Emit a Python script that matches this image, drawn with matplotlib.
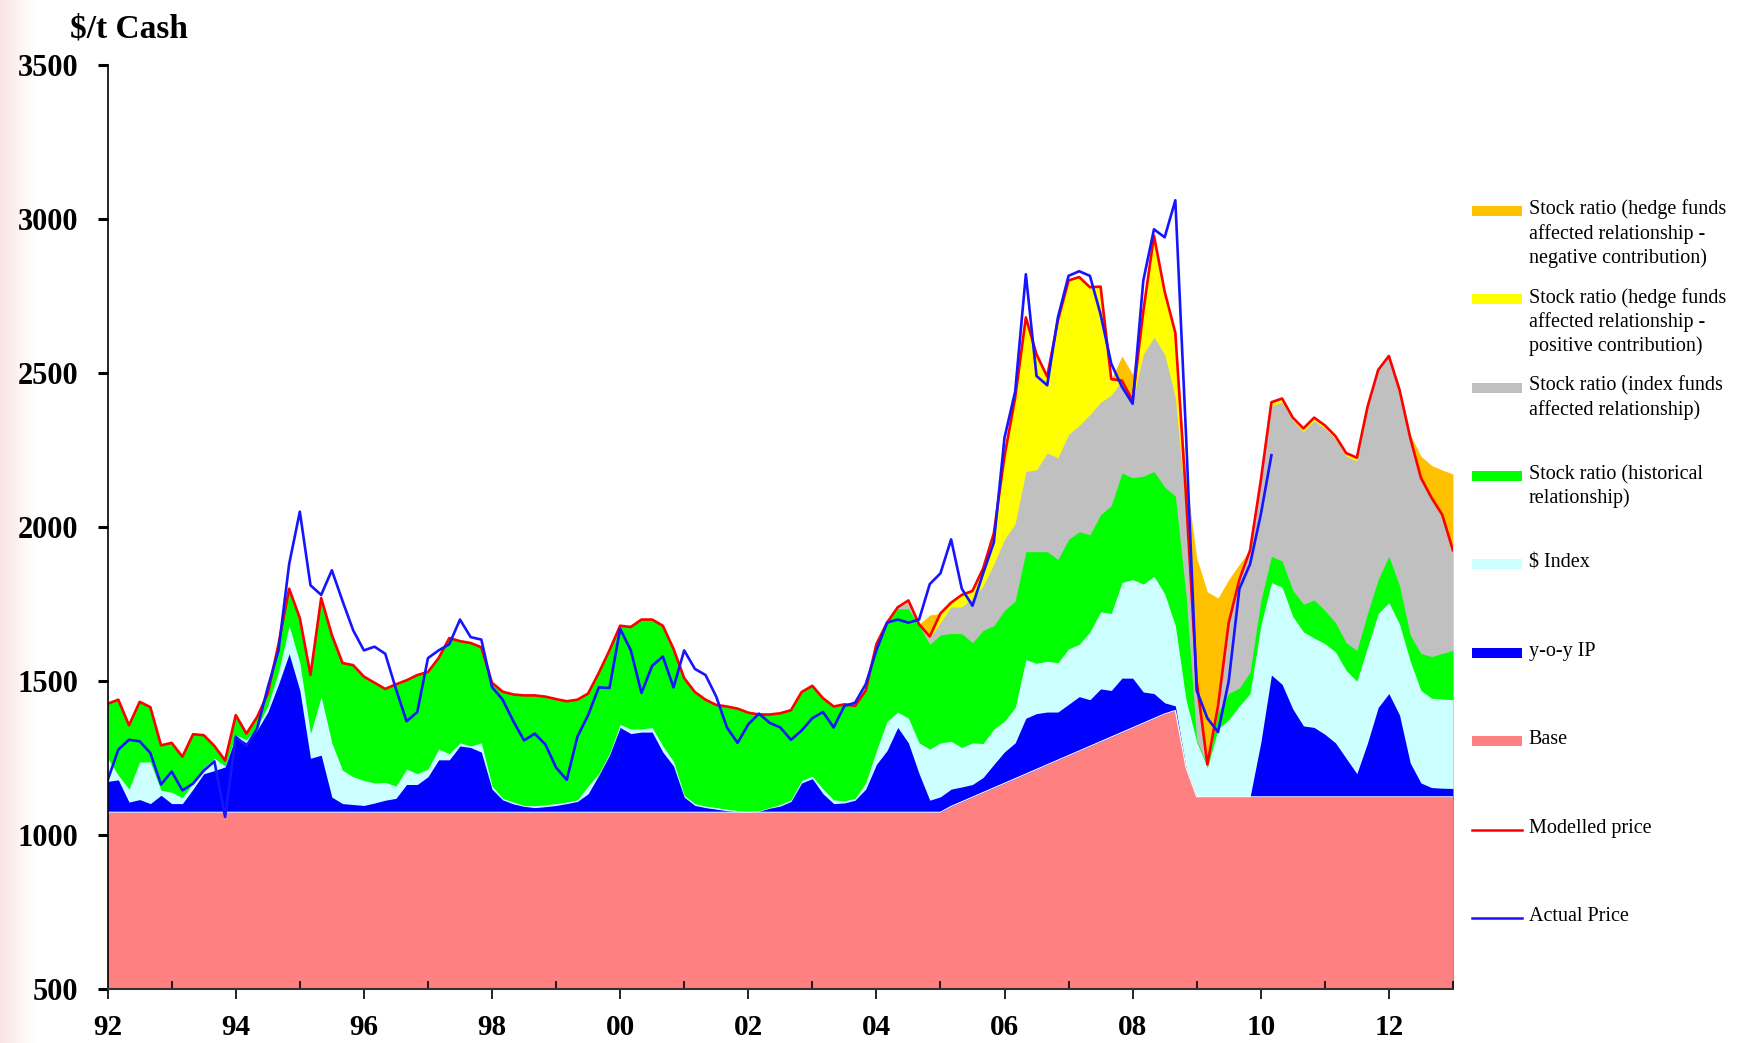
import numpy as np
import matplotlib
matplotlib.use("Agg")
import matplotlib.pyplot as plt
from matplotlib.colors import LinearSegmentedColormap
from matplotlib.lines import Line2D
from matplotlib.patches import Rectangle

plt.rcParams["font.family"] = ["Liberation Serif", "DejaVu Serif"]

# bimonthly points, Jan-1992 .. Jan-2013
years = 1992 + np.arange(127) / 6

base = [
    1075, 1075, 1075, 1075, 1075, 1075,
    1075, 1075, 1075, 1075, 1075, 1075,
    1075, 1075, 1075, 1075, 1075, 1075,
    1075, 1075, 1075, 1075, 1075, 1075,
    1075, 1075, 1075, 1075, 1075, 1075,
    1075, 1075, 1075, 1075, 1075, 1075,
    1075, 1075, 1075, 1075, 1075, 1075,
    1075, 1075, 1075, 1075, 1075, 1075,
    1075, 1075, 1075, 1075, 1075, 1075,
    1075, 1075, 1075, 1075, 1075, 1075,
    1075, 1075, 1075, 1075, 1075, 1075,
    1075, 1075, 1075, 1075, 1075, 1075,
    1075, 1075, 1075, 1075, 1075, 1075,
    1075, 1094, 1109, 1124, 1139, 1154,
    1169, 1184, 1199, 1214, 1229, 1244,
    1259, 1274, 1289, 1304, 1319, 1334,
    1349, 1364, 1379, 1394, 1405, 1220,
    1125, 1125, 1125, 1125, 1125, 1125,
    1125, 1125, 1125, 1125, 1125, 1125,
    1125, 1125, 1125, 1125, 1125, 1125,
    1125, 1125, 1125, 1125, 1125, 1125,
    1125,
]

# top of the y-o-y IP band
ip_top = [
    1175, 1180, 1108, 1116, 1103, 1130,
    1103, 1103, 1150, 1200, 1210, 1222,
    1320, 1300, 1341, 1400, 1490, 1589,
    1470, 1250, 1260, 1124, 1103, 1100,
    1097, 1105, 1114, 1120, 1165, 1165,
    1190, 1245, 1245, 1290, 1285, 1270,
    1150, 1115, 1102, 1094, 1090, 1093,
    1097, 1103, 1110, 1135, 1195, 1260,
    1350, 1330, 1335, 1335, 1270, 1225,
    1124, 1097, 1090, 1085, 1080, 1077,
    1075, 1078, 1088, 1095, 1110, 1170,
    1184, 1135, 1103, 1105, 1114, 1150,
    1230, 1275, 1350, 1300, 1200, 1114,
    1125, 1150, 1157, 1165, 1188, 1230,
    1271, 1300, 1380, 1395, 1400, 1400,
    1425, 1450, 1440, 1475, 1470, 1510,
    1510, 1465, 1460, 1430, 1420, 1220,
    1125, 1125, 1125, 1125, 1125, 1125,
    1300, 1520, 1490, 1410, 1355, 1350,
    1328, 1300, 1250, 1200, 1300, 1415,
    1460, 1390, 1235, 1170, 1155, 1153,
    1152,
]

# top of the $ index band
usd_top = [
    1250, 1195, 1150, 1238, 1238, 1146,
    1140, 1122, 1170, 1220, 1250, 1225,
    1325, 1310, 1350, 1420, 1530, 1680,
    1560, 1330, 1450, 1300, 1211, 1190,
    1178, 1170, 1172, 1160, 1215, 1200,
    1215, 1280, 1265, 1300, 1290, 1300,
    1160, 1120, 1108, 1097, 1096, 1099,
    1103, 1108, 1115, 1160, 1200, 1265,
    1360, 1345, 1345, 1350, 1290, 1240,
    1130, 1103, 1095, 1090, 1085, 1080,
    1077, 1080, 1090, 1100, 1115, 1178,
    1192, 1150, 1115, 1112, 1120, 1170,
    1275, 1370, 1400, 1380, 1300, 1280,
    1300, 1305, 1285, 1300, 1298, 1345,
    1370, 1415, 1570, 1558, 1565, 1560,
    1605, 1620, 1660, 1725, 1720, 1820,
    1830, 1815, 1840, 1784, 1680, 1440,
    1303, 1220, 1345, 1375, 1420, 1460,
    1680, 1820, 1805, 1710, 1660, 1640,
    1622, 1595, 1535, 1500, 1610, 1720,
    1755, 1685, 1565, 1470, 1445, 1442,
    1440,
]

modelled = [
    1427, 1440, 1357, 1433, 1416, 1292,
    1300, 1255, 1328, 1325, 1290, 1243,
    1390, 1330, 1384, 1460, 1620, 1800,
    1705, 1520, 1770, 1650, 1559, 1552,
    1515, 1495, 1475, 1490, 1503, 1520,
    1530, 1575, 1640, 1630, 1624, 1610,
    1495, 1466, 1457, 1454, 1454, 1450,
    1442, 1435, 1440, 1460, 1527, 1600,
    1680, 1676, 1700, 1700, 1680, 1605,
    1510, 1465, 1440, 1423, 1418, 1411,
    1398, 1392, 1392, 1396, 1406, 1465,
    1485, 1445, 1418, 1425, 1420, 1470,
    1620, 1690, 1740, 1762, 1685, 1645,
    1720, 1755, 1780, 1793, 1866, 1980,
    2230, 2420, 2680, 2560, 2488, 2670,
    2800, 2811, 2778, 2780, 2480, 2475,
    2410, 2700, 2945, 2764, 2630, 2100,
    1500, 1230, 1420, 1690, 1830, 1925,
    2150, 2405, 2417, 2355, 2320, 2355,
    2330, 2295, 2240, 2225, 2390, 2510,
    2555, 2445, 2290, 2160, 2095, 2040,
    1925,
]

# stock ratio contributions (hedge funds positive, index funds)
hedge_pos = [
    0, 0, 0, 0, 0, 0,
    0, 0, 0, 0, 0, 0,
    0, 0, 0, 0, 0, 0,
    0, 0, 0, 0, 0, 0,
    0, 0, 0, 0, 0, 0,
    0, 0, 0, 0, 0, 0,
    0, 0, 0, 0, 0, 0,
    0, 0, 0, 0, 0, 0,
    0, 0, 0, 0, 0, 0,
    0, 0, 0, 0, 0, 0,
    0, 0, 0, 0, 0, 0,
    0, 0, 0, 0, 0, 0,
    0, 0, 0, 7, 0, 5,
    30, 14, 39, 25, 57, 100,
    270, 409, 500, 374, 248, 445,
    500, 481, 413, 375, 52, 0,
    0, 140, 329, 204, 210, 50,
    0, 2, 0, 0, 0, 0,
    0, 12, 12, 10, 10, 10,
    10, 10, 10, 10, 0, 0,
    0, 0, 0, 0, 0, 0,
    0,
]

index_funds = [
    0, 0, 0, 0, 0, 0,
    0, 0, 0, 0, 0, 0,
    0, 0, 0, 0, 0, 0,
    0, 0, 0, 0, 0, 0,
    0, 0, 0, 0, 0, 0,
    0, 0, 0, 0, 0, 0,
    0, 0, 0, 0, 0, 0,
    0, 0, 0, 0, 0, 0,
    0, 0, 0, 0, 0, 0,
    0, 0, 0, 0, 0, 0,
    0, 0, 0, 0, 0, 0,
    0, 0, 0, 0, 0, 0,
    0, 0, 5, 20, 5, 20,
    40, 86, 87, 143, 144, 200,
    230, 251, 260, 266, 320, 330,
    340, 345, 390, 365, 358, 300,
    250, 395, 436, 430, 320, 270,
    190, 3, 20, 230, 352, 395,
    390, 488, 515, 550, 560, 582,
    590, 595, 605, 615, 670, 680,
    650, 635, 640, 570, 515, 450,
    325,
]

# hedge funds negative contribution, shown above the modelled price
hedge_neg = [
    0, 0, 0, 0, 0, 0,
    0, 0, 0, 0, 0, 0,
    0, 0, 0, 0, 0, 0,
    0, 0, 0, 0, 0, 0,
    0, 0, 0, 0, 0, 0,
    0, 0, 0, 0, 0, 0,
    0, 0, 0, 0, 0, 0,
    0, 0, 0, 0, 0, 0,
    0, 0, 0, 0, 0, 0,
    0, 0, 0, 0, 0, 0,
    0, 0, 0, 0, 0, 0,
    0, 0, 0, 0, 0, 0,
    0, 0, 0, 0, 0, 70,
    0, 0, 0, 0, 0, 0,
    0, 0, 0, 0, 0, 0,
    0, 0, 0, 0, 0, 80,
    85, 0, 0, 0, 0, 60,
    400, 560, 350, 140, 50, 0,
    0, 0, 0, 0, 0, 0,
    0, 0, 0, 0, 0, 0,
    0, 5, 10, 70, 105, 145,
    247,
]

actual = [
    1179, 1278, 1310, 1305, 1267, 1165,
    1207, 1146, 1168, 1210, 1240, 1060,
    1320, 1290, 1346, 1480, 1600, 1880,
    2050, 1811, 1780, 1860, 1760, 1665,
    1600, 1612, 1589, 1475, 1370, 1400,
    1575, 1600, 1620, 1700, 1643, 1635,
    1481, 1440, 1370, 1308, 1330, 1295,
    1220, 1180, 1320, 1390, 1480, 1478,
    1670, 1600, 1462, 1550, 1580, 1480,
    1600, 1540, 1520, 1450, 1350, 1300,
    1360, 1395, 1365, 1350, 1310, 1340,
    1380, 1400, 1350, 1420, 1430, 1490,
    1600, 1690, 1700, 1690, 1700, 1815,
    1850, 1960, 1800, 1745, 1850, 1950,
    2290, 2440, 2820, 2490, 2460, 2680,
    2815, 2830, 2815, 2690, 2530, 2455,
    2400, 2800, 2966, 2940, 3060, 2300,
    1470, 1380, 1335, 1500, 1800, 1880,
    2040, 2233,
]

x_labels = ["92", "94", "96", "98", "00", "02", "04", "06", "08", "10", "12"]

ORANGE = "#ffc000"
YELLOW = "#ffff00"
GREY = "#c0c0c0"
GREEN = "#00ff00"
CYAN = "#ccffff"
BLUE = "#0000ff"
SALMON = "#ff8080"
RED = "#ff0000"
LINE_BLUE = "#1515ff"

modelled_a = np.array(modelled, float)
neg_top = modelled_a + np.array(hedge_neg)
idx_top = modelled_a - np.array(hedge_pos)
hist_top = idx_top - np.array(index_funds)

fig = plt.figure(figsize=(17.39, 10.43), dpi=100)

# faint pink strip along the left edge
strip = fig.add_axes([0, 0, 0.02, 1])
pink = LinearSegmentedColormap.from_list("pk", ["#fbe4e4", "#ffffff"])
strip.imshow(np.linspace(0, 1, 64)[None, :], aspect="auto", cmap=pink, extent=[0, 1, 0, 1])
strip.axis("off")

ax = fig.add_axes([0.0619, 0.0513, 0.7736, 0.8867])

# painted from the top layer down so that neighbouring bands share edges
ax.fill_between(years, 500, neg_top, color=ORANGE, lw=0)
ax.fill_between(years, 500, modelled_a, color=YELLOW, lw=0)
ax.fill_between(years, 500, idx_top, color=GREY, lw=0)
ax.fill_between(years, 500, hist_top, color=GREEN, lw=0)
ax.fill_between(years, 500, usd_top, color=CYAN, lw=0)
ax.fill_between(years, 500, ip_top, color=BLUE, lw=0)
ax.fill_between(years, 500, base, color=SALMON, lw=0)
ax.plot(years, base, color="white", lw=0.8)

ax.plot(years, modelled_a, color=RED, lw=1.9)
ax.plot(years[:len(actual)], actual, color=LINE_BLUE, lw=1.9)

ax.set_xlim(1992, 2013)
ax.set_ylim(500, 3500)
for side in ["top", "right"]:
    ax.spines[side].set_visible(False)
ax.spines["left"].set_linewidth(1.2)
ax.spines["bottom"].set_linewidth(1.5)
ax.spines["bottom"].set_color("#333333")

ax.set_yticks(range(500, 3501, 500))
ax.set_xticks(range(1992, 2013, 2))
ax.set_xticklabels(x_labels)
ax.set_xticks(range(1993, 2014, 2), minor=True)
ax.tick_params(axis="x", which="major", direction="out", length=7, width=1.2,
               pad=11, labelsize=21)
ax.tick_params(axis="x", which="minor", direction="in", length=6, width=1.2)
ax.tick_params(axis="y", direction="out", length=7, width=2.2, pad=14, labelsize=22)
for lbl in ax.get_xticklabels() + ax.get_yticklabels():
    lbl.set_fontweight("bold")

fig.text(0.040, 0.972, r"\$/t Cash", fontsize=24, fontweight="bold", va="center")

# legend on the right, one entry per layer
legend_items = [
    ("patch", ORANGE, "Stock ratio (hedge funds\naffected relationship -\nnegative contribution)"),
    ("patch", YELLOW, "Stock ratio (hedge funds\naffected relationship -\npositive contribution)"),
    ("patch", GREY, "Stock ratio (index funds\naffected relationship)"),
    ("patch", GREEN, "Stock ratio (historical\nrelationship)"),
    ("patch", CYAN, r"\$ Index"),
    ("patch", BLUE, "y-o-y IP"),
    ("patch", SALMON, "Base"),
    ("line", RED, "Modelled price"),
    ("line", LINE_BLUE, "Actual Price"),
]
y0, dy = 0.798, 0.0848
for i, (kind, col, label) in enumerate(legend_items):
    y = y0 - i * dy
    if kind == "patch":
        fig.patches.append(Rectangle((0.8465, y - 0.0048), 0.0287, 0.0096,
                                     transform=fig.transFigure, color=col, lw=0))
    else:
        fig.lines.append(Line2D([0.8465, 0.8752], [y, y], transform=fig.transFigure,
                                color=col, lw=1.8))
    fig.text(0.879, y + 0.0108, label, fontsize=14.5, va="top", linespacing=1.3)

fig.savefig("out.png", dpi=100)
